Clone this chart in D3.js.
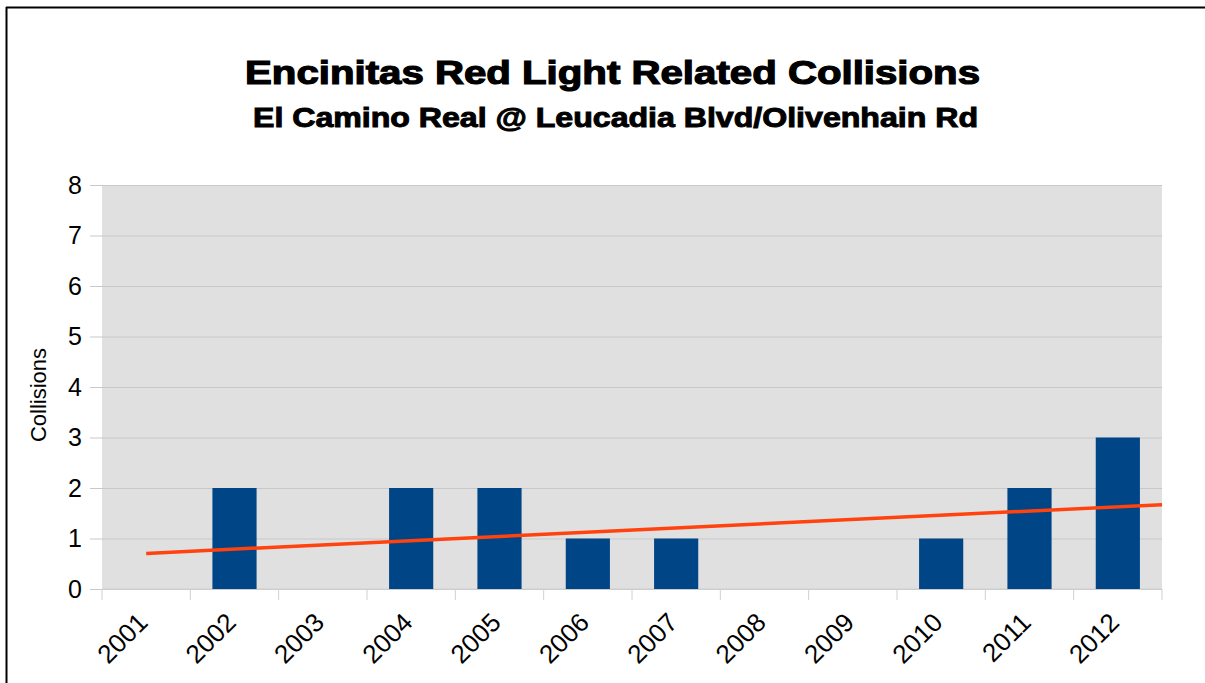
<!DOCTYPE html>
<meta charset="utf-8">
<script src="https://d3js.org/d3.v7.min.js"></script>
<style>
  body { margin: 0; background: #fff; }
  text { font-family: "Liberation Sans", Arial, sans-serif; fill: #000; }
</style>
<div id="chart"></div>
<script>
// data
var years = ["2001","2002","2003","2004","2005","2006","2007","2008","2009","2010","2011","2012"];
var collisions = [0, 2, 0, 2, 2, 1, 1, 0, 0, 1, 2, 3];
var yTicks = [0, 1, 2, 3, 4, 5, 6, 7, 8];

var W = 1205, H = 683;
var plot = {left: 102, right: 1162, top: 185, bottom: 589};

var svg = d3.select("#chart").append("svg")
  .attr("width", W).attr("height", H);

// outer frame (top and left edges visible)
svg.append("line").attr("x1", 6).attr("x2", W).attr("y1", 7.5).attr("y2", 7.5)
  .attr("stroke", "#000").attr("stroke-width", 2);
svg.append("line").attr("x1", 6.5).attr("x2", 6.5).attr("y1", 7).attr("y2", H)
  .attr("stroke", "#000").attr("stroke-width", 2);

var x = d3.scaleBand().domain(years).range([plot.left, plot.right]).paddingInner(0).paddingOuter(0);
var y = d3.scaleLinear().domain([0, 8]).range([plot.bottom, plot.top]);

// plot background
svg.append("rect")
  .attr("x", plot.left).attr("y", plot.top)
  .attr("width", plot.right - plot.left).attr("height", plot.bottom - plot.top)
  .attr("fill", "#e0e0e0");

// horizontal gridlines + ticks
var yAxis = d3.axisLeft(y).tickValues(yTicks).tickSize(-(plot.right - plot.left)).tickPadding(20);
var gy = svg.append("g").attr("transform", "translate(" + plot.left + ",0)").call(yAxis);
gy.select(".domain").remove();
gy.selectAll(".tick line").attr("stroke", "#c8c8c8").attr("x1", -12);
gy.selectAll(".tick text").attr("x", -20).style("font-size", "25px")
  .style("font-family", "'Liberation Sans', Arial, sans-serif").attr("fill", "#000");

// x axis: ticks at category boundaries
var gx = svg.append("g").attr("transform", "translate(0," + plot.bottom + ")");
gx.append("line").attr("x1", plot.left).attr("x2", plot.right)
  .attr("stroke", "#d0d0d0");
var bounds = years.map(function(d){ return x(d); }).concat([plot.right]);
gx.selectAll(".xtick").data(bounds).enter().append("line")
  .attr("x1", function(d){ return d; }).attr("x2", function(d){ return d; })
  .attr("y1", 0).attr("y2", 11).attr("stroke", "#d0d0d0");
gx.selectAll(".xlab").data(years).enter().append("text")
  .attr("transform", function(d){ return "translate(" + (x(d) + x.bandwidth()/2 + 3) + ",35)rotate(-45)"; })
  .attr("text-anchor", "end")
  .style("font-size", "26px")
  .text(function(d){ return d; });

// bars
svg.selectAll(".bar").data(years).enter().append("rect")
  .attr("x", function(d){ return x(d) + x.bandwidth()/4; })
  .attr("width", x.bandwidth()/2)
  .attr("y", function(d, i){ return y(collisions[i]); })
  .attr("height", function(d, i){ return plot.bottom - y(collisions[i]); })
  .attr("fill", "#004586");

// linear trend line (least squares), from first category centre to right edge
var n = collisions.length;
var xs = d3.range(1, n + 1);
var mx = d3.mean(xs), my = d3.mean(collisions);
var sxy = d3.sum(xs, function(v, i){ return (v - mx) * (collisions[i] - my); });
var sxx = d3.sum(xs, function(v){ return (v - mx) * (v - mx); });
var slope = sxy / sxx, icept = my - slope * mx;
var xi = d3.scaleLinear().domain([0.5, n + 0.5]).range([plot.left, plot.right]);
svg.append("line")
  .attr("x1", xi(1)).attr("y1", y(icept + slope * 1))
  .attr("x2", xi(n + 0.5)).attr("y2", y(icept + slope * (n + 0.5)))
  .attr("stroke", "#ff420e").attr("stroke-width", 3.5);

// titles
svg.append("text").attr("x", 612.5).attr("y", 84).attr("text-anchor", "middle")
  .style("font-size", "33px").style("font-weight", "bold")
  .attr("stroke", "#000").attr("stroke-width", 1.2)
  .attr("textLength", 735).attr("lengthAdjust", "spacingAndGlyphs")
  .text("Encinitas Red Light Related Collisions");
svg.append("text").attr("x", 615.5).attr("y", 127).attr("text-anchor", "middle")
  .style("font-size", "28px").style("font-weight", "bold")
  .attr("stroke", "#000").attr("stroke-width", 1)
  .attr("textLength", 725).attr("lengthAdjust", "spacingAndGlyphs")
  .text("El Camino Real @ Leucadia Blvd/Olivenhain Rd");

// y axis label
svg.append("text")
  .attr("transform", "translate(46,395)rotate(-90)")
  .attr("text-anchor", "middle")
  .style("font-size", "22px")
  .text("Collisions");
</script>
